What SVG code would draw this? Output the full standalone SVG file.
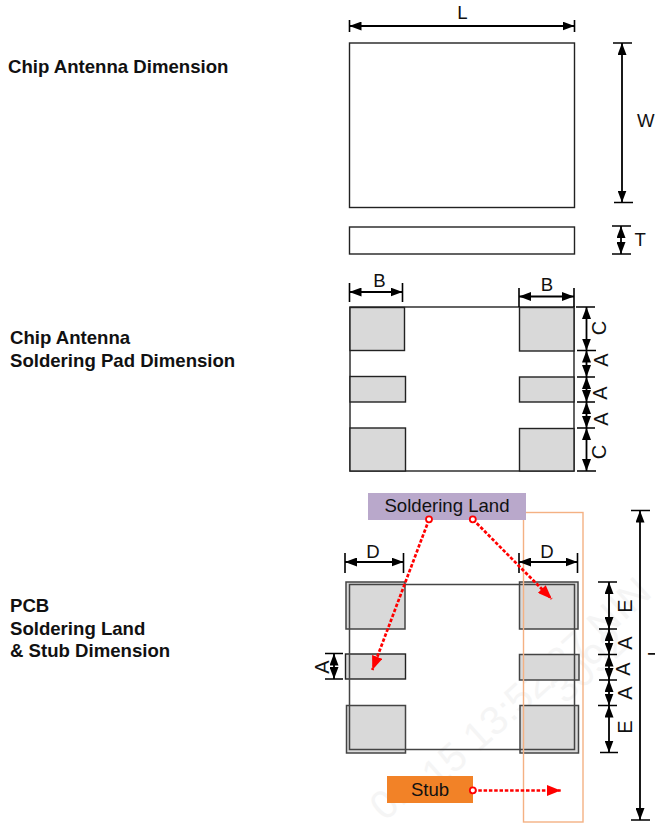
<svg xmlns="http://www.w3.org/2000/svg" width="655" height="823" viewBox="0 0 655 823">
<style>
text{font-family:"Liberation Sans",Arial,sans-serif;fill:#111}
.h{font-size:18.6px;font-weight:bold}
.l{font-size:18.6px}
.v{font-size:20px}
.m{text-anchor:middle}
.wm{font-size:40px;fill:#f5f5f5}
.body{fill:#fff;stroke:#222;stroke-width:1.4}
.o{fill:none;stroke:#444;stroke-width:1.5}
.p{fill:#d9d9d9;stroke:#222;stroke-width:1.4}
.q{fill:#d9d9d9;stroke:#444;stroke-width:1.5}
.t{stroke:#000;stroke-width:1.6;fill:none}
.d{stroke:#000;stroke-width:1.8;fill:none;marker-start:url(#ah);marker-end:url(#ah)}
.r{stroke:#f00;stroke-width:2.7;stroke-dasharray:3.5 1.8;fill:none;marker-end:url(#rh)}
.c{fill:#fff;stroke:#f00;stroke-width:1.8}
</style>
<defs>
<marker id="ah" markerUnits="userSpaceOnUse" viewBox="0 0 12 9" refX="12" refY="4.5" markerWidth="12" markerHeight="9" orient="auto-start-reverse"><path d="M0 0L12 4.5L0 9Z" fill="#000"/></marker>
<marker id="rh" markerUnits="userSpaceOnUse" viewBox="0 0 14 11" refX="14" refY="5.5" markerWidth="14" markerHeight="11" orient="auto"><path d="M0 0L14 5.5L0 11Z" fill="#f00"/></marker>
</defs>
<rect width="655" height="823" fill="#fff"/>
<g id="watermark">
<text class="wm" transform="translate(385 822) rotate(-42)">01</text>
<text class="wm" transform="translate(437 790) rotate(-42)">15 13:52:27 NIN</text>
<text class="wm" transform="translate(565 705) rotate(-42)">3092</text>
</g>
<g id="headings">
<text class="h" x="8" y="73">Chip Antenna Dimension</text>
<text class="h" x="10" y="344">Chip Antenna</text>
<text class="h" x="10" y="367">Soldering Pad Dimension</text>
<text class="h" x="10" y="612">PCB</text>
<text class="h" x="10" y="635">Soldering Land</text>
<text class="h" x="10" y="657">&amp; Stub Dimension</text>
</g>
<g id="chip-top"><rect class="body" x="349.5" y="43" width="225" height="164.5"/></g>
<g id="chip-side"><rect class="body" x="349.5" y="227" width="225" height="27"/></g>
<g id="pad-chip">
<rect class="body" x="350" y="307" width="224" height="164"/>
<rect class="p" x="350" y="307.5" width="54.5" height="43"/>
<rect class="p" x="350" y="376.5" width="55.5" height="25.5"/>
<rect class="p" x="350" y="428" width="55.5" height="43"/>
<rect class="p" x="519.5" y="307.5" width="54.5" height="43.5"/>
<rect class="p" x="519.5" y="377" width="54.5" height="25"/>
<rect class="p" x="519.5" y="428.5" width="54.5" height="42.5"/>
</g>
<g id="pcb-land">
<rect class="q" x="346" y="582" width="59" height="47"/>
<rect class="p" x="345.5" y="654" width="60" height="25"/>
<rect class="q" x="346.5" y="705.5" width="59" height="47.5"/>
<rect class="q" x="519.5" y="582" width="58.5" height="47"/>
<rect class="q" x="519.5" y="654.5" width="59.5" height="25.5"/>
<rect class="q" x="520" y="705.5" width="58.5" height="47.5"/>
<rect class="o" x="349.5" y="584.5" width="225" height="165"/>
</g>
<g id="stub-outline"><rect x="523.5" y="512.5" width="59.5" height="309.5" fill="none" stroke="#f4b183" stroke-width="1.4"/></g>
<g id="soldering-land"><rect x="368" y="493" width="158" height="27" fill="#b9a8cb"/><text class="l m" x="447" y="512">Soldering Land</text></g>
<g id="stub"><rect x="387" y="776" width="86" height="27" fill="#f28227"/><text class="l m" x="430" y="796">Stub</text></g>
<g id="connectors">
<path class="t" d="M349.5 20V32M574.5 20V32M613 43H632M614 202.5H633M612 226H631M612 254H631"/>
<path class="d" d="M349.5 26H574.5"/>
<path class="d" d="M622 43V202.5"/>
<path class="d" d="M621 226V254"/>
<path class="t" d="M349.5 283V302M402.5 283V302M519 288V307M574 288V307M576 307H595M577 350.5H596M577 377H595M577 402H595M577 428H595M577 471H596"/>
<path class="d" d="M349.5 292H402.5"/>
<path class="d" d="M519 296.5H574"/>
<path class="d" d="M586.5 307V350.5"/>
<path class="d" d="M586.5 350.5V377"/>
<path class="d" d="M586.5 377V402"/>
<path class="d" d="M586.5 402V428"/>
<path class="d" d="M586.5 428V471"/>
<path class="t" d="M345 553V573M403.5 553V573M519 553V573M577.5 553V573M598 582H617M599 629H617M598 654.5H617M599 680H617M598 705.5H617M600 752.5H618M325 653.5H343M325 679H343M631 510.5H650M631 820H650"/>
<path class="d" d="M345 562H403.5"/>
<path class="d" d="M519 562H577.5"/>
<path class="d" d="M609 582V629"/>
<path class="d" d="M609 629V654.5"/>
<path class="d" d="M609 654.5V680"/>
<path class="d" d="M609 680V705.5"/>
<path class="d" d="M609 705.5V752.5"/>
<path class="d" d="M334 653.5V679"/>
<path class="d" d="M640 510.5V820"/>
<path class="r" d="M429 519.5L372.3 670"/>
<path class="r" d="M473 519.5L551.7 599"/>
<path class="r" d="M473 790.5H560.7"/>
<circle class="c" cx="429" cy="519.3" r="3"/>
<circle class="c" cx="472.8" cy="519.3" r="3"/>
<circle class="c" cx="472.8" cy="790.3" r="3"/>
</g>
<g id="labels">
<text class="l m" x="462.5" y="19">L</text>
<text class="l" x="637" y="127">W</text>
<text class="l" x="634.5" y="246">T</text>
<text class="l m" x="379.5" y="287">B</text>
<text class="l m" x="547" y="291">B</text>
<text class="l m" x="373" y="558">D</text>
<text class="l m" x="547" y="558">D</text>
<text class="v m" transform="translate(606 328) rotate(-90)">C</text>
<text class="v m" transform="translate(607.5 360) rotate(-90)">A</text>
<text class="v m" transform="translate(606.5 393) rotate(-90)">A</text>
<text class="v m" transform="translate(607.5 419) rotate(-90)">A</text>
<text class="v m" transform="translate(606 452) rotate(-90)">C</text>
<text class="v m" transform="translate(632 606) rotate(-90)">E</text>
<text class="v m" transform="translate(631.5 643) rotate(-90)">A</text>
<text class="v m" transform="translate(629.5 669) rotate(-90)">A</text>
<text class="v m" transform="translate(631.5 693) rotate(-90)">A</text>
<text class="v m" transform="translate(632 727) rotate(-90)">E</text>
<text class="v m" transform="translate(328.5 667) rotate(-90)">A</text>
<text class="l m" transform="translate(648 654) rotate(90)">T</text>
</g>
</svg>
